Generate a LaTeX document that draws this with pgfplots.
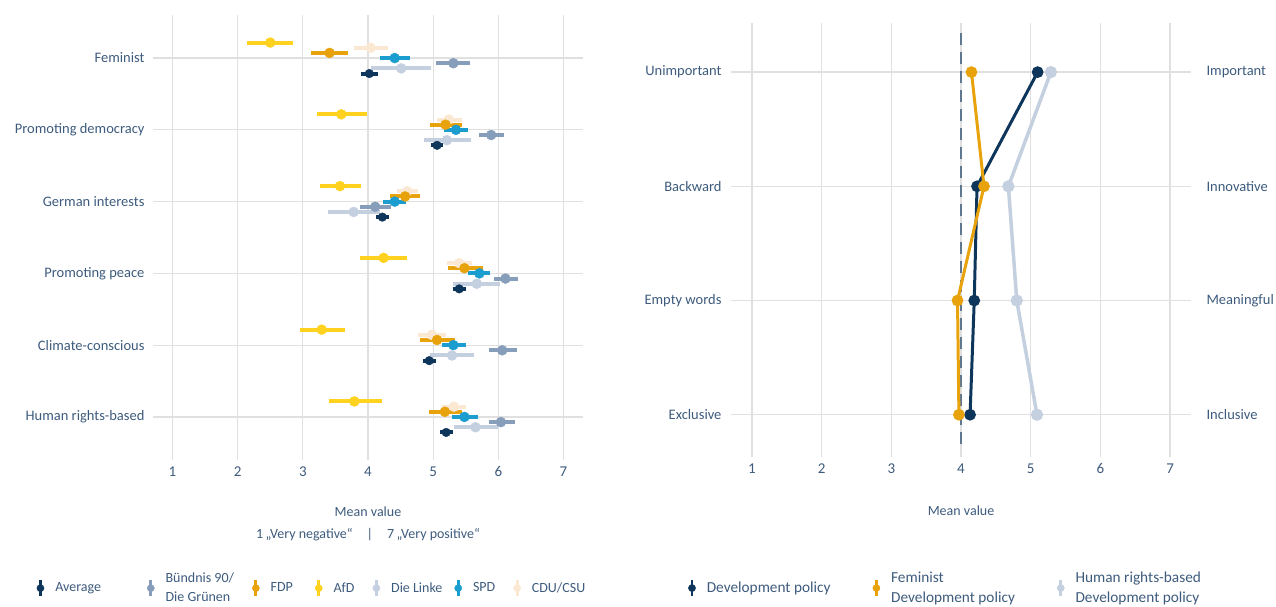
\documentclass[border=0pt]{standalone}
\usepackage{pgfplots}
\pgfplotsset{compat=1.18}
\usepackage{pgfplotstable}
\usepackage{fontspec}
\setmainfont{Carlito}
\definecolor{cavg}{HTML}{0E355A}
\definecolor{cgru}{HTML}{879EBB}
\definecolor{cfdp}{HTML}{E8A20C}
\definecolor{cafd}{HTML}{FFD21F}
\definecolor{clin}{HTML}{C4CFDF}
\definecolor{cspd}{HTML}{1B9DCF}
\definecolor{ccdu}{HTML}{FAE8D2}
\definecolor{ctxt}{HTML}{3D5B7D}
\definecolor{cgrid}{HTML}{E0E0E0}
\definecolor{cdash}{HTML}{60788F}
\def\dd{0.072}
% columns: c = category (6 Feminist ... 1 Human rights-based), m = mean, lo/hi = interval
\pgfplotstableread{
c m lo hi
6 4.02 3.89 4.16
5 5.06 4.97 5.15
4 4.22 4.13 4.33
3 5.40 5.30 5.50
2 4.94 4.84 5.05
1 5.20 5.11 5.31
}\tavg
\pgfplotstableread{
c m lo hi
6 5.31 5.05 5.57
5 5.89 5.71 6.08
4 4.11 3.87 4.35
3 6.11 5.93 6.30
2 6.06 5.86 6.28
1 6.04 5.85 6.26
}\tgru
\pgfplotstableread{
c m lo hi
6 3.41 3.12 3.70
5 5.19 4.95 5.44
4 4.57 4.34 4.80
3 5.48 5.23 5.76
2 5.06 4.80 5.33
1 5.18 4.93 5.45
}\tfdp
\pgfplotstableread{
c m lo hi
6 2.50 2.15 2.85
5 3.59 3.21 3.99
4 3.57 3.26 3.90
3 4.24 3.88 4.60
2 3.29 2.96 3.65
1 3.79 3.40 4.21
}\tafd
\pgfplotstableread{
c m lo hi
6 4.51 4.04 4.97
5 5.21 4.86 5.58
4 3.78 3.39 4.18
3 5.67 5.31 6.02
2 5.29 4.95 5.63
1 5.65 5.32 5.99
}\tlin
\pgfplotstableread{
c m lo hi
6 4.41 4.19 4.64
5 5.35 5.17 5.53
4 4.41 4.23 4.59
3 5.71 5.54 5.88
2 5.31 5.13 5.50
1 5.48 5.29 5.69
}\tspd
\pgfplotstableread{
c m lo hi
6 4.04 3.79 4.31
5 5.24 5.06 5.45
4 4.60 4.44 4.76
3 5.40 5.21 5.59
2 4.98 4.77 5.19
1 5.32 5.14 5.50
}\tcdu
\pgfplotsset{
  base/.style={
    scale only axis, anchor=south west,
    axis line style={draw=none}, tick style={draw=none},
    xmajorgrids, ymajorgrids, grid style={cgrid, line width=1.3pt},
    xmin=0.7, xmax=7.3, xtick={1,...,7},
    /pgf/number format/assume math mode=true,
    xticklabel style={font=\fontsize{15}{17}\selectfont, text=ctxt, yshift=-3pt},
    yticklabel style={font=\fontsize{14.5}{16}\selectfont, text=ctxt},
    label style={font=\fontsize{14}{22}\selectfont, text=ctxt, align=center},
    legend style={draw=none, fill=none, font=\fontsize{14}{19}\selectfont, text=ctxt,
      nodes={align=left},
      /tikz/every odd column/.append style={column sep=9pt}},
    legend cell align=left,
    legend image code/.code={
      \draw[line width=2.8pt] (0.3em,-0.8em) -- (0.3em,0.8em);
      \fill (0.3em,0) circle (3.6pt);
    },
  },
  dot/.style={forget plot, only marks, mark=*, mark size=5pt, color=#1, fill=#1,
    /pgfplots/error bars/x dir=both, /pgfplots/error bars/x explicit,
    /pgfplots/error bars/error mark=none,
    /pgfplots/error bars/error bar style={line width=4pt, color=#1}},
}
\begin{document}
\begin{tikzpicture}
\begin{axis}[base, at={(153pt,147pt)}, width=430pt, height=445pt,
  ymin=0.4, ymax=6.6, ytick={1,...,6},
  yticklabels={Human rights-based, Climate-conscious, Promoting peace, German interests, Promoting democracy, Feminist},
  yticklabel style={xshift=-5pt},
  xlabel={Mean value\\1\,„Very negative“\quad|\quad7\,„Very positive“},
  xlabel style={at={(axis description cs:0.5,0)}, anchor=north, yshift=-43pt},
  legend columns=7,
  legend style={at={(axis description cs:-0.278,-0.288)}, anchor=west,
    /tikz/every even column/.append style={column sep=16pt}},
]
\addlegendimage{color=cavg}\addlegendentry{Average\hspace{28pt}}
\addlegendimage{color=cgru}\addlegendentry{Bündnis 90/\hspace{14pt}\\Die Grünen}
\addlegendimage{color=cfdp}\addlegendentry{FDP\hspace{4pt}}
\addlegendimage{color=cafd}\addlegendentry{AfD}
\addlegendimage{color=clin}\addlegendentry{Die Linke\hspace{-6pt}}
\addlegendimage{color=cspd}\addlegendentry{SPD}
\addlegendimage{color=ccdu}\addlegendentry{CDU/CSU}
\addplot[dot=ccdu] table[x=m, y expr=\thisrow{c}+2*\dd, x error plus expr=\thisrow{hi}-\thisrow{m}, x error minus expr=\thisrow{m}-\thisrow{lo}] \tcdu;
\addplot[dot=cafd] table[x=m, y expr=\thisrow{c}+3*\dd, x error plus expr=\thisrow{hi}-\thisrow{m}, x error minus expr=\thisrow{m}-\thisrow{lo}] \tafd;
\addplot[dot=cfdp] table[x=m, y expr=\thisrow{c}+1*\dd, x error plus expr=\thisrow{hi}-\thisrow{m}, x error minus expr=\thisrow{m}-\thisrow{lo}] \tfdp;
\addplot[dot=cspd] table[x=m, y expr=\thisrow{c}, x error plus expr=\thisrow{hi}-\thisrow{m}, x error minus expr=\thisrow{m}-\thisrow{lo}] \tspd;
\addplot[dot=cgru] table[x=m, y expr=\thisrow{c}-1*\dd, x error plus expr=\thisrow{hi}-\thisrow{m}, x error minus expr=\thisrow{m}-\thisrow{lo}] \tgru;
\addplot[dot=clin] table[x=m, y expr=\thisrow{c}-2*\dd, x error plus expr=\thisrow{hi}-\thisrow{m}, x error minus expr=\thisrow{m}-\thisrow{lo}] \tlin;
\addplot[dot=cavg, mark size=4.3pt] table[x=m, y expr=\thisrow{c}-3*\dd, x error plus expr=\thisrow{hi}-\thisrow{m}, x error minus expr=\thisrow{m}-\thisrow{lo}] \tavg;
\end{axis}
\begin{axis}[base, at={(731pt,150pt)}, width=460pt, height=434pt,
  ymin=0.63, ymax=4.43, ytick={1,...,4},
  yticklabels={Exclusive, Empty words, Backward, Unimportant},
  yticklabel style={xshift=-6pt},
  xlabel={Mean value},
  xlabel style={at={(axis description cs:0.5,0)}, anchor=north, yshift=-45pt},
  legend columns=3,
  legend style={at={(axis description cs:-0.1,-0.302)}, anchor=west,
    font=\fontsize{15.3}{20}\selectfont,
    /tikz/every even column/.append style={column sep=40pt}},
  clip=false,
]
\addlegendimage{color=cavg}\addlegendentry{Development policy}
\addlegendimage{color=cfdp}\addlegendentry{Feminist\\Development policy}
\addlegendimage{color=clin}\addlegendentry{Human rights-based\\Development policy}
\addplot[forget plot, cdash, line width=1.5pt, dash pattern=on 12pt off 7pt] coordinates {(4,0.74) (4,4.34)};
\addplot[forget plot, clin, line width=3.5pt, mark=*, mark size=4.3pt] coordinates {(5.29,4) (4.68,3) (4.80,2) (5.09,1)};
\addplot[forget plot, cavg, line width=3pt, mark=*, mark size=4.3pt] coordinates {(5.10,4) (4.23,3) (4.19,2) (4.13,1)};
\addplot[forget plot, cfdp, line width=3pt, mark=*, mark size=4.3pt] coordinates {(4.15,4) (4.33,3) (3.95,2) (3.97,1)};
\node[anchor=west, font=\fontsize{14.5}{16}\selectfont, text=ctxt, xshift=12pt] at (axis cs:7.3,4) {Important};
\node[anchor=west, font=\fontsize{14.5}{16}\selectfont, text=ctxt, xshift=12pt] at (axis cs:7.3,3) {Innovative};
\node[anchor=west, font=\fontsize{14.5}{16}\selectfont, text=ctxt, xshift=12pt] at (axis cs:7.3,2) {Meaningful};
\node[anchor=west, font=\fontsize{14.5}{16}\selectfont, text=ctxt, xshift=12pt] at (axis cs:7.3,1) {Inclusive};
\end{axis}
\pgfresetboundingbox
\path (0pt,0pt) rectangle (1276pt,607pt);
\end{tikzpicture}
\end{document}
